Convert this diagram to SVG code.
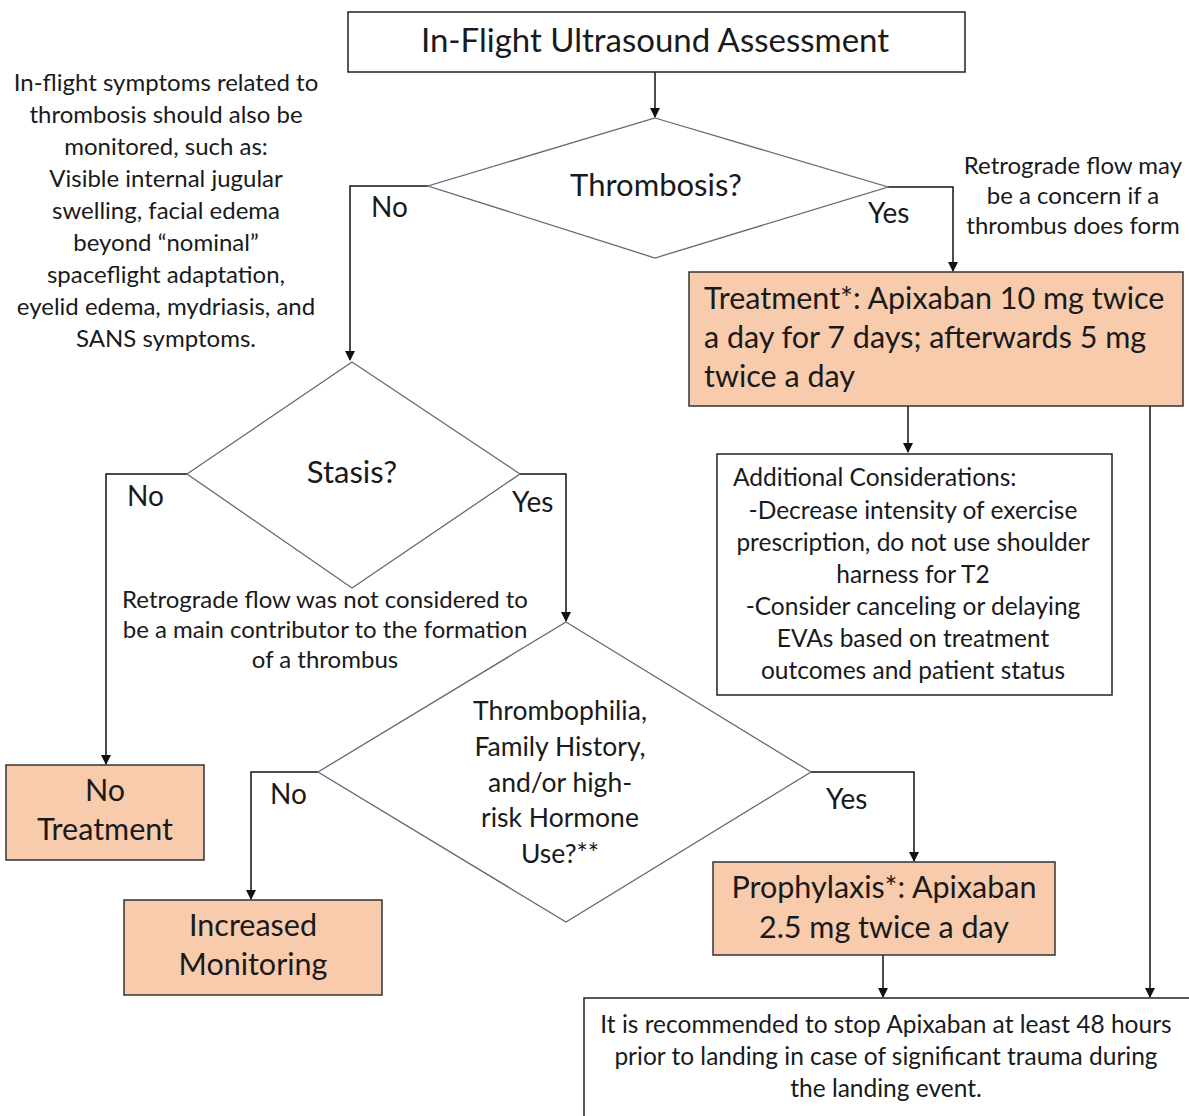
<svg xmlns="http://www.w3.org/2000/svg" width="1189" height="1116" viewBox="0 0 1189 1116">
<style>
text{font-family:Lato,"Open Sans","Liberation Sans",sans-serif;fill:#1a1a1a}
.box{fill:#fff;stroke:#222;stroke-width:1.5}
.fill{fill:#F8CBAD;stroke:#333;stroke-width:1.5}
.dia{fill:#fff;stroke:#5f6b7a;stroke-width:1.3}
.c{text-anchor:middle}
.s24{font-size:24px}
.s245{font-size:24.5px}
.lbl{font-size:28px}
.q{font-size:31px}
.s30{font-size:30.5px}
.con{fill:none;stroke:#111;stroke-width:1.5}
</style>
<defs>
<marker id="ah" markerWidth="10" markerHeight="10" refX="9" refY="5" orient="auto" markerUnits="userSpaceOnUse">
<path d="M0,0 L10,5 L0,10 z" fill="#111"/>
</marker>
</defs>
<rect width="1189" height="1116" fill="#fff"/>

<g id="connectors">
<path class="con" d="M655,72 V117" marker-end="url(#ah)"/>
<path class="con" d="M428,186 H350 V360" marker-end="url(#ah)"/>
<path class="con" d="M888,187 H953 V271" marker-end="url(#ah)"/>
<path class="con" d="M908,406 V452" marker-end="url(#ah)"/>
<path class="con" d="M1150,406 V997" marker-end="url(#ah)"/>
<path class="con" d="M187,474 H106 V764" marker-end="url(#ah)"/>
<path class="con" d="M520,474 H566 V621" marker-end="url(#ah)"/>
<path class="con" d="M318,772 H251 V899" marker-end="url(#ah)"/>
<path class="con" d="M811,772 H914 V861" marker-end="url(#ah)"/>
<path class="con" d="M883,955 V997" marker-end="url(#ah)"/>
<text x="371" y="217" class="lbl">No</text>
<text x="868" y="223" class="lbl">Yes</text>
<text x="127" y="506" class="lbl">No</text>
<text x="512" y="512" class="lbl">Yes</text>
<text x="270" y="804" class="lbl">No</text>
<text x="826" y="809" class="lbl">Yes</text>
</g>

<g id="title">
<rect class="box" x="348" y="12" width="617" height="60"/>
<text x="655" y="52" class="c" style="font-size:33px">In-Flight Ultrasound  Assessment</text>
</g>

<g id="note-left">
<text class="c s24"><tspan x="166" y="91">In-flight symptoms related to</tspan><tspan x="166" y="123">thrombosis should also be</tspan><tspan x="166" y="155">monitored, such as:</tspan><tspan x="166" y="187">Visible internal jugular</tspan><tspan x="166" y="219">swelling, facial edema</tspan><tspan x="166" y="251">beyond “nominal”</tspan><tspan x="166" y="283">spaceflight adaptation,</tspan><tspan x="166" y="315">eyelid edema, mydriasis, and</tspan><tspan x="166" y="347">SANS symptoms.</tspan></text>
</g>

<g id="thrombosis">
<polygon class="dia" points="655,118 888,187 655,258 428,186"/>
<text x="656" y="196" class="c q">Thrombosis?</text>
</g>

<g id="note-right">
<text class="c s24"><tspan x="1073" y="174">Retrograde flow may</tspan><tspan x="1073" y="204">be a concern if a</tspan><tspan x="1073" y="234">thrombus does form</tspan></text>
</g>

<g id="treatment">
<rect class="fill" x="689" y="272" width="494" height="134"/>
<text class="s30"><tspan x="704" y="309">Treatment*: Apixaban 10 mg twice</tspan><tspan x="704" y="348">a day for 7 days; afterwards 5 mg</tspan><tspan x="704" y="387">twice a day</tspan></text>
</g>

<g id="additional">
<rect class="box" x="717" y="454" width="395" height="241"/>
<text class="s245" x="733" y="486">Additional Considerations:</text>
<text class="c s245"><tspan x="913" y="519">-Decrease intensity of exercise</tspan><tspan x="913" y="551">prescription, do not use shoulder</tspan><tspan x="913" y="583">harness for T2</tspan><tspan x="913" y="615">-Consider canceling or delaying</tspan><tspan x="913" y="647">EVAs based on treatment</tspan><tspan x="913" y="679">outcomes and patient status</tspan></text>
</g>

<g id="stasis">
<polygon class="dia" points="352,362 520,474 352,588 187,474"/>
<text x="352" y="483" class="c q">Stasis?</text>
</g>

<g id="note-stasis">
<text class="c s24"><tspan x="325" y="608">Retrograde flow was not considered to</tspan><tspan x="325" y="638">be a main contributor to the formation</tspan><tspan x="325" y="668">of a thrombus</tspan></text>
</g>

<g id="thrombophilia">
<polygon class="dia" points="566,622 811,772 566,922 318,772"/>
<text class="c" style="font-size:26.5px"><tspan x="560" y="720">Thrombophilia,</tspan><tspan x="560" y="756">Family History,</tspan><tspan x="560" y="792">and/or high-</tspan><tspan x="560" y="827">risk Hormone</tspan><tspan x="560" y="863">Use?**</tspan></text>
</g>

<g id="no-treatment">
<rect class="fill" x="6" y="765" width="198" height="95"/>
<text class="c s30"><tspan x="105" y="801">No</tspan><tspan x="105" y="840">Treatment</tspan></text>
</g>

<g id="increased-monitoring">
<rect class="fill" x="124" y="900" width="258" height="95"/>
<text class="c s30"><tspan x="253" y="936">Increased</tspan><tspan x="253" y="975">Monitoring</tspan></text>
</g>

<g id="prophylaxis">
<rect class="fill" x="713" y="862" width="342" height="93"/>
<text class="c s30"><tspan x="884" y="898">Prophylaxis*: Apixaban</tspan><tspan x="884" y="938">2.5 mg twice a day</tspan></text>
</g>

<g id="stop">
<rect class="box" x="584" y="998" width="620" height="130"/>
<text class="c s245"><tspan x="886" y="1033">It is recommended to stop Apixaban at least 48 hours</tspan><tspan x="886" y="1065">prior to landing in case of significant trauma during</tspan><tspan x="886" y="1097">the landing event.</tspan></text>
</g>
</svg>
